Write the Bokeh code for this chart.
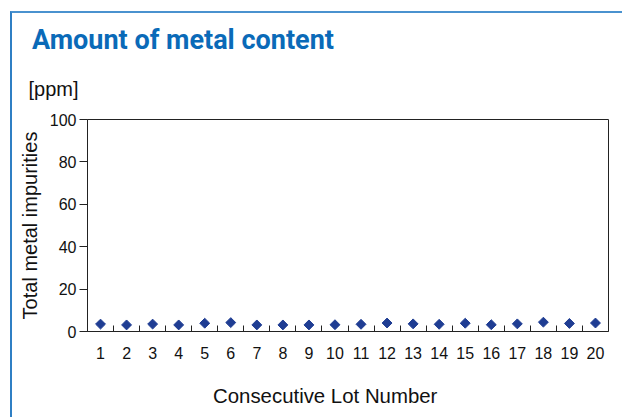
import math
from bokeh.plotting import figure
from bokeh.models import (ColumnDataSource, FixedTicker, Range1d, Title,
                          LinearAxis)
from bokeh.embed import file_html
from bokeh.resources import INLINE

# ---- data ----
lots = list(range(1, 21))
lot_labels = [str(i) for i in lots]
impurities = [3.5, 3.1, 3.5, 3.1, 3.9, 4.2, 3.1, 3.1, 3.1, 3.2,
              3.4, 4.0, 3.6, 3.4, 3.9, 3.2, 3.6, 4.4, 3.8, 4.0]
y_ticks = [0, 20, 40, 60, 80, 100]

title_text = "Amount of metal content"
unit_text = "[ppm]"
y_label_text = "Total metal impurities"
x_label_text = "Consecutive Lot Number"

FONT = "Liberation Sans"
INK = "#111111"

# canvas starts at page (12, 13) because of the CSS margin + border
p = figure(width=612, height=406, output_backend="svg", toolbar_location=None,
           x_range=Range1d(0.5, 20.5), y_range=Range1d(0, 100),
           min_border_left=75, min_border_right=16,
           min_border_top=106, min_border_bottom=88,
           background_fill_color="white", border_fill_color="white",
           styles={"margin-left": "10px", "margin-top": "11px",
                   "border-left": "2px solid #2f7fc4",
                   "border-top": "2px solid #4a92cf"})
p.outline_line_color = "#222222"
p.outline_line_width = 1
p.xgrid.visible = False
p.ygrid.visible = False

src = ColumnDataSource(dict(x=lots, y=impurities))
p.scatter("x", "y", source=src, marker="square", size=7, angle=math.pi / 4,
          fill_color="#1f3d93", line_color="#1f3d93")

# x axis
xa = p.xaxis[0]
xa.ticker = FixedTicker(ticks=lots, minor_ticks=[i + 0.5 for i in lots[:-1]])
xa.major_label_overrides = {i: s for i, s in zip(lots, lot_labels)}
xa.major_tick_in = 0
xa.major_tick_out = 0
xa.minor_tick_in = 6
xa.minor_tick_out = 0
xa.minor_tick_line_color = "#222222"
xa.axis_line_color = "#222222"
xa.major_label_standoff = 15
xa.major_label_text_font = FONT
xa.major_label_text_font_size = "16px"
xa.major_label_text_color = INK

# blank spacer axis below the x axis (pushes the x title down);
# its single tick is white on white at the frame's left edge
spacer = LinearAxis(ticker=FixedTicker(ticks=[0.5], minor_ticks=[]),
                    major_tick_in=0, major_tick_out=17,
                    minor_tick_in=0, minor_tick_out=0,
                    major_label_standoff=0, major_label_text_color=None,
                    major_label_overrides={0.5: ""},
                    axis_line_color=None, major_tick_line_color="white",
                    minor_tick_line_color=None)
p.add_layout(spacer, "below")

# y axis
ya = p.yaxis[0]
ya.ticker = FixedTicker(ticks=y_ticks)
ya.major_tick_in = 0
ya.major_tick_out = 8
ya.minor_tick_in = 0
ya.minor_tick_out = 0
ya.major_tick_line_color = "#222222"
ya.axis_line_color = "#222222"
ya.major_label_standoff = 3
ya.major_label_text_font = FONT
ya.major_label_text_font_size = "16px"
ya.major_label_text_color = INK
ya.axis_label = y_label_text
ya.axis_label_text_font = FONT
ya.axis_label_text_font_size = "20px"
ya.axis_label_text_font_style = "normal"
ya.axis_label_text_color = INK
ya.axis_label_standoff = 6

# titles (offsets relative to the plot frame's left edge, page x = 87)
p.title.visible = False
p.add_layout(Title(text=unit_text, align="left", offset=-59,
                   text_font=FONT, text_font_size="20px",
                   text_font_style="normal", text_color=INK,
                   standoff=40), "above")
p.add_layout(Title(text=title_text, align="left", offset=-55.5,
                   text_font="Roboto", text_font_size="27px",
                   text_font_style="bold", text_color="#0a6ab8",
                   standoff=0), "above")
p.add_layout(Title(text=x_label_text, align="left", offset=125.5,
                   text_font=FONT, text_font_size="20.4px",
                   text_font_style="normal", text_color=INK,
                   standoff=8), "below")

open("out.html", "w").write(file_html(p, INLINE))
